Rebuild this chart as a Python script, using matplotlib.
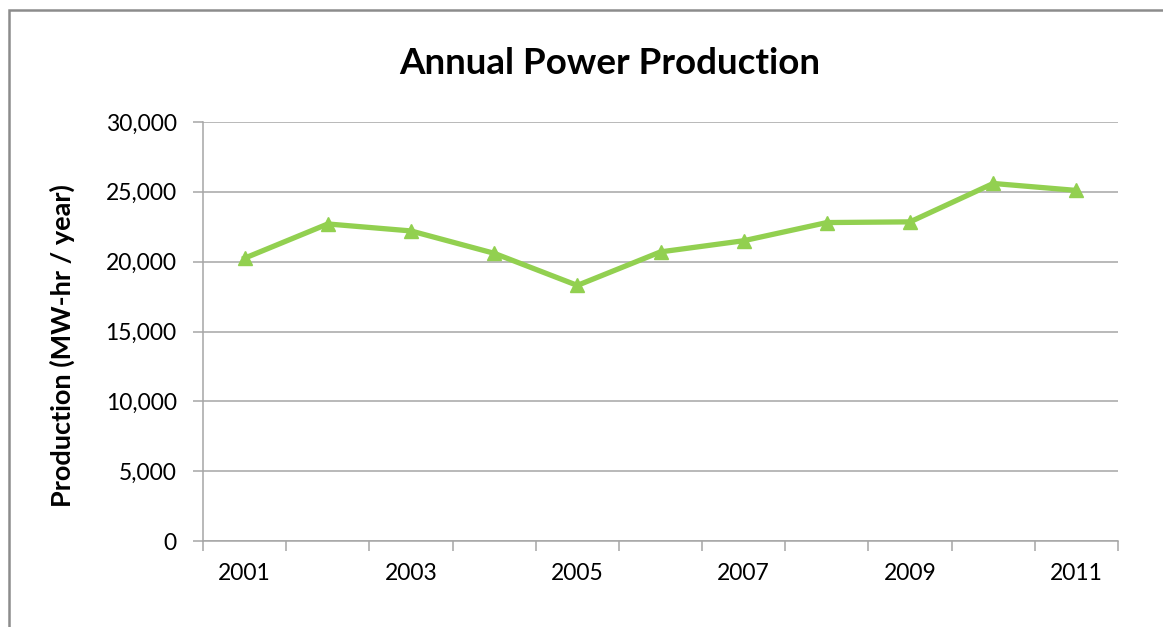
import matplotlib
matplotlib.use('Agg')
import matplotlib.pyplot as plt
from matplotlib.patches import Rectangle
from matplotlib.ticker import FuncFormatter

years = ['2001', '2002', '2003', '2004', '2005', '2006', '2007', '2008', '2009', '2010', '2011']
production = [20250, 22700, 22200, 20600, 18300, 20700, 21500, 22800, 22850, 25600, 25100]

plt.rcParams['font.family'] = ['Lato', 'DejaVu Sans']

fig = plt.figure(figsize=(11.63, 6.27), dpi=100)
W, H = 1163, 627

# borde gris del area del grafico (se sale por la derecha y por abajo)
fig.patches.append(Rectangle((9 / W, -0.1), 1.2, 1 - 10 / H + 0.1, transform=fig.transFigure,
                             fill=False, edgecolor='#8c8c8c', linewidth=1.8))

ax = fig.add_axes([203 / W, (H - 541) / H, (1118 - 203) / W, (541 - 122) / H])

x = list(range(len(years)))
ax.plot(x, production, color='#92D050', linewidth=3.8, marker='^', markersize=10,
        markeredgecolor='#92D050', solid_joinstyle='round', zorder=3, clip_on=False)

ax.set_xlim(-0.5, len(years) - 0.5)
ax.set_ylim(0, 30000)
ax.set_yticks(range(0, 30001, 5000))
ax.yaxis.set_major_formatter(FuncFormatter(lambda v, p: f'{int(v):,}'))
ax.grid(axis='y', color='#a6a6a6', linewidth=1.1)
ax.set_axisbelow(True)

ax.set_xticks(x)
ax.set_xticklabels([y if i % 2 == 0 else '' for i, y in enumerate(years)])
ax.set_xticks([i - 0.5 for i in range(len(years) + 1)], minor=True)
ax.tick_params(axis='x', which='major', length=0, pad=16, labelsize=16.5)
ax.tick_params(axis='x', which='minor', length=7, width=1.1, color='#a6a6a6')
ax.tick_params(axis='y', length=7, width=1.1, color='#a6a6a6', pad=12, labelsize=16.5)

for s in ['top', 'right']:
    ax.spines[s].set_visible(False)
for s in ['left', 'bottom']:
    ax.spines[s].set_color('#a6a6a6')
    ax.spines[s].set_linewidth(1.1)

fig.text(610 / W, 1 - 64 / H, 'Annual Power Production', ha='center', va='center',
         fontsize=26.5, fontweight='bold')
fig.text(62 / W, 1 - 346 / H, 'Production (MW-hr / year)', ha='center', va='center',
         rotation=90, fontsize=19.5, fontweight='bold')

fig.savefig('out.png', dpi=100)
